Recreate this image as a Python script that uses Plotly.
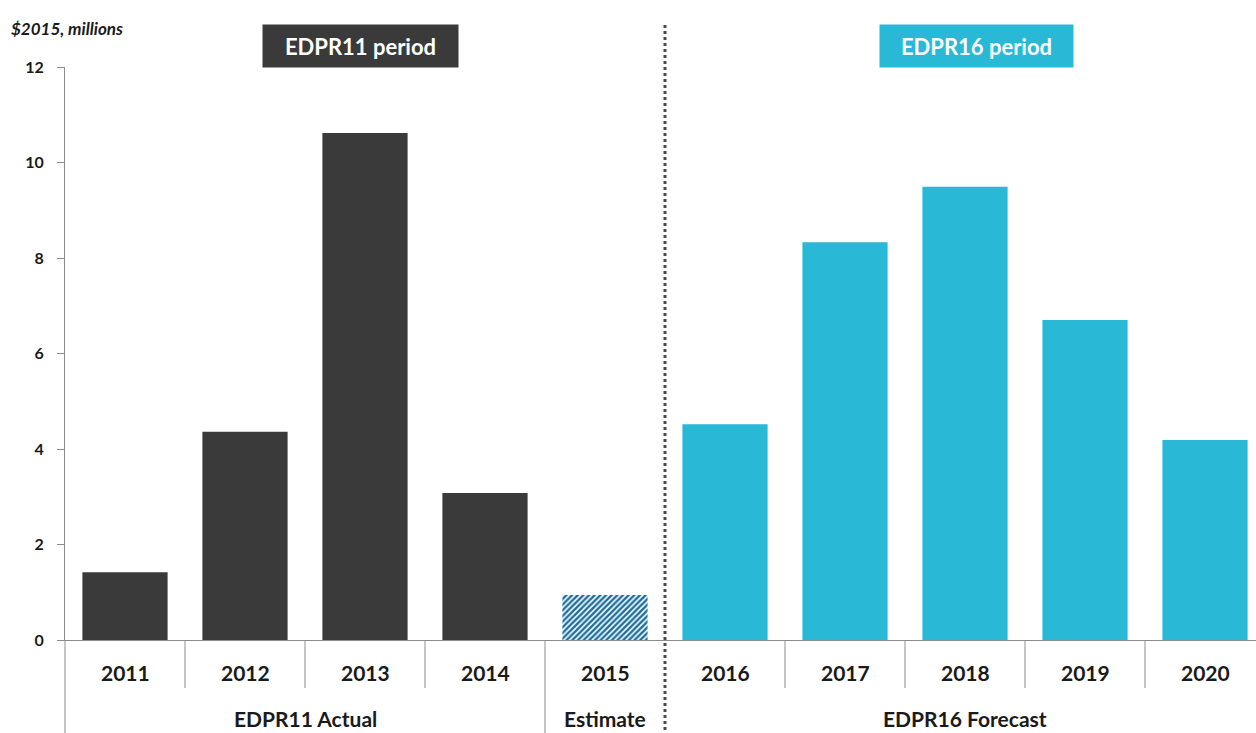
import plotly.graph_objects as go

# Annual values, $2015 millions
years = ["2011", "2012", "2013", "2014", "2015", "2016", "2017", "2018", "2019", "2020"]
values = [1.42, 4.36, 10.62, 3.08, 0.94, 4.52, 8.33, 9.49, 6.70, 4.19]
kinds = ["actual", "actual", "actual", "actual", "estimate",
         "forecast", "forecast", "forecast", "forecast", "forecast"]

groups = ["EDPR11 Actual", "Estimate", "EDPR16 Forecast"]
group_spans = [(0, 3), (4, 4), (5, 9)]

y_ticks = [0, 2, 4, 6, 8, 10, 12]

DARK = "#3a3a3a"
CYAN = "#29b9d6"
HATCH = "#1a6e9e"
FONT = "Lato"
TXT = "#1a1a1a"

W, H = 1256, 733
ML, MT, MB = 65, 67, 93
plot_h = H - MT - MB
step = 120.0
x_max = (W - ML) / step - 0.5

fig = go.Figure()

idx = list(range(len(years)))
solid_x = [i for i in idx if kinds[i] != "estimate"]
fig.add_trace(go.Bar(
    x=solid_x,
    y=[values[i] for i in solid_x],
    marker=dict(color=[DARK if kinds[i] == "actual" else CYAN for i in solid_x],
                line=dict(width=0)),
    width=0.71,
    hoverinfo="x+y",
))
est_x = [i for i in idx if kinds[i] == "estimate"]
fig.add_trace(go.Bar(
    x=est_x,
    y=[values[i] for i in est_x],
    marker=dict(color="white",
                pattern=dict(shape="/", fgcolor=HATCH, bgcolor="white",
                             size=4, solidity=0.6, fillmode="replace"),
                line=dict(width=0)),
    width=0.71,
))

shapes = []
# short separators between years
for b in [0.5, 1.5, 2.5, 5.5, 6.5, 7.5, 8.5]:
    shapes.append(dict(type="line", xref="x", yref="paper", x0=b, x1=b,
                       y0=0, y1=-48 / plot_h, line=dict(color="#8c8c8c", width=1)))
# full-height group separator
shapes.append(dict(type="line", xref="x", yref="paper", x0=3.5, x1=3.5,
                   y0=0, y1=-MB / plot_h, line=dict(color="#8c8c8c", width=1)))
# y axis line continued through the label area
shapes.append(dict(type="line", xref="paper", yref="paper", x0=0, x1=0,
                   y0=0, y1=-MB / plot_h, line=dict(color="#8c8c8c", width=1)))
# period divider
shapes.append(dict(type="line", xref="x", yref="paper", x0=4.5, x1=4.5,
                   y0=(640 - 25) / plot_h, y1=-MB / plot_h,
                   line=dict(color="#4a4a4a", width=3, dash="dot")))

annotations = []
for i, yr in enumerate(years):
    annotations.append(dict(x=i, y=-32 / plot_h, xref="x", yref="paper", text=yr,
                            showarrow=False, font=dict(family=FONT, size=21, color=TXT,
                                                       weight="bold"),
                            xanchor="center", yanchor="middle"))
for g, (a, b) in zip(groups, group_spans):
    annotations.append(dict(x=(a + b) / 2, y=-78 / plot_h, xref="x", yref="paper", text=g,
                            showarrow=False, font=dict(family=FONT, size=21, color=TXT,
                                                       weight="bold"),
                            xanchor="center", yanchor="middle"))
# period labels
annotations.append(dict(x=(360.5 - ML) / step - 0.5, y=(640 - 46) / plot_h, xref="x", yref="paper",
                        text="EDPR11 period", showarrow=False, bgcolor=DARK, width=195, height=42,
                        borderpad=0, font=dict(family=FONT, size=22, color="white", weight="bold"),
                        xanchor="center", yanchor="middle"))
annotations.append(dict(x=(976.5 - ML) / step - 0.5, y=(640 - 46) / plot_h, xref="x", yref="paper",
                        text="EDPR16 period", showarrow=False, bgcolor=CYAN, width=193, height=42,
                        borderpad=0, font=dict(family=FONT, size=22, color="white", weight="bold"),
                        xanchor="center", yanchor="middle"))
annotations.append(dict(x=(9 - ML) / (W - ML), y=(640 - 29) / plot_h, xref="paper", yref="paper",
                        text="<i>$2015, millions</i>", showarrow=False, xanchor="left",
                        yanchor="middle",
                        font=dict(family=FONT, size=17, color=TXT, weight="bold")))

fig.update_layout(
    width=W, height=H,
    margin=dict(l=ML, r=0, t=MT, b=MB),
    paper_bgcolor="white", plot_bgcolor="white",
    showlegend=False,
    barmode="overlay",
    shapes=shapes,
    annotations=annotations,
    xaxis=dict(range=[-0.5, x_max], showticklabels=False, showgrid=False, zeroline=False,
               showline=True, linecolor="#8c8c8c", linewidth=1, ticks=""),
    yaxis=dict(range=[0, 12], tickvals=y_ticks, showgrid=False, zeroline=False,
               showline=True, linecolor="#8c8c8c", linewidth=1,
               ticks="outside", ticklen=7, tickcolor="#8c8c8c", ticklabelstandoff=10,
               tickfont=dict(family=FONT, size=16, color=TXT, weight="bold")),
)

fig.write_html("out.html")
